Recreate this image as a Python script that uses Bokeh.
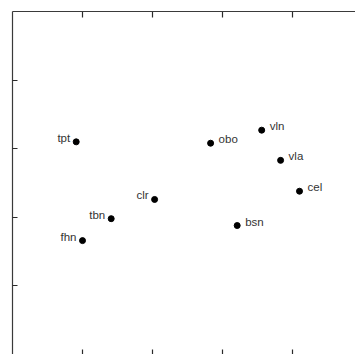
from bokeh.plotting import figure
from bokeh.models import ColumnDataSource, LinearAxis, FixedTicker, Range1d
from bokeh.core.properties import value
from bokeh.embed import file_html
from bokeh.resources import INLINE

# data
instruments = ["tpt", "obo", "vln", "vla", "cel", "clr", "tbn", "bsn", "fhn"]
dim1 = [0.91, 2.83, 3.56, 3.83, 4.10, 2.03, 1.41, 3.21, 1.00]
dim2 = [3.10, 3.08, 3.27, 2.83, 2.38, 2.26, 1.98, 1.88, 1.66]
label_side = ["left", "right", "right", "right", "right", "left", "left", "right", "left"]
tick_values = [1, 2, 3, 4]

X_END = 4.9
Y_END = 5.0
FRAME_H = 343  # pixels (354 - 11)
TICK_PX = 6

p = figure(width=355, height=354, output_backend="svg", toolbar_location=None,
           x_range=Range1d(0, X_END), y_range=Range1d(0, Y_END),
           x_axis_location=None, y_axis_location=None,
           min_border_left=12, min_border_top=11, min_border_right=0, min_border_bottom=0)
p.outline_line_color = None
p.xgrid.grid_line_color = None
p.ygrid.grid_line_color = None
p.background_fill_color = "white"
p.border_fill_color = "white"

def make_axis(show_line=True, tick_in=5):
    ax = LinearAxis(ticker=FixedTicker(ticks=tick_values))
    ax.major_tick_in = tick_in
    ax.major_tick_out = 0
    ax.minor_tick_in = 0
    ax.minor_tick_out = 0
    ax.major_label_text_font_size = "0px"
    ax.major_label_standoff = 0
    ax.major_label_text_color = None
    ax.axis_line_color = "#3a3a3a" if show_line else None
    ax.axis_line_width = 1.2
    ax.major_tick_line_color = "#2a2a2a"
    ax.major_tick_line_width = 1.2
    return ax

p.add_layout(make_axis(True), "left")
p.add_layout(make_axis(True, tick_in=0), "above")
p.add_layout(make_axis(False), "below")

# inward ticks along the top edge at the same tick values
tick_len = TICK_PX * Y_END / FRAME_H
p.segment(x0=tick_values, y0=[Y_END] * len(tick_values),
          x1=tick_values, y1=[Y_END - tick_len] * len(tick_values),
          line_color="#2a2a2a", line_width=1.2)

src = ColumnDataSource(dict(x=dim1, y=dim2, name=instruments))
p.scatter("x", "y", source=src, size=6, color="black")

lx, ly, ln = [], [], []
rx, ry, rn = [], [], []
for x, y, n, s in zip(dim1, dim2, instruments, label_side):
    if s == "left":
        lx.append(x); ly.append(y); ln.append(n)
    else:
        rx.append(x); ry.append(y); rn.append(n)

p.text(x=lx, y=ly, text=ln, x_offset=-6, y_offset=-4, text_align="right",
       text_baseline="middle", text_font=value("Liberation Sans"),
       text_font_size="11.5px", text_color="#333333")
p.text(x=rx, y=ry, text=rn, x_offset=8, y_offset=-4, text_align="left",
       text_baseline="middle", text_font=value("Liberation Sans"),
       text_font_size="11.5px", text_color="#333333")

open("out.html", "w").write(file_html(p, INLINE))
